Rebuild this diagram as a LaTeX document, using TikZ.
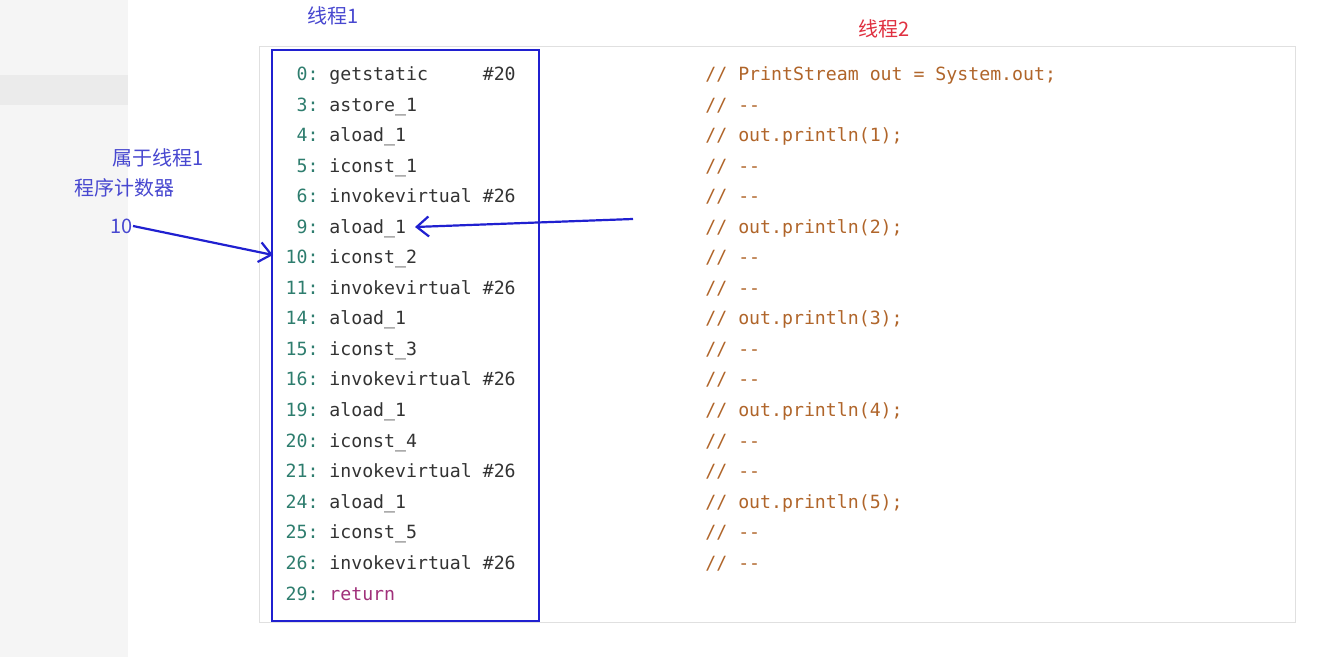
\documentclass[tikz,border=0pt]{standalone}
\usepackage{fontspec}
\setmonofont{DejaVu Sans Mono}
\newfontfamily\cjk{Noto Sans CJK SC}
\usetikzlibrary{arrows.meta}
\definecolor{numc}{HTML}{2E7D6E}
\definecolor{txtc}{HTML}{333333}
\definecolor{cmtc}{HTML}{B0652A}
\definecolor{retc}{HTML}{A0307A}
\definecolor{pen}{HTML}{2020D0}
\definecolor{lbl}{HTML}{4848D0}
\definecolor{redl}{HTML}{E03040}
\tikzset{
  num/.style={anchor=base east,inner sep=0pt,font=\ttfamily\fontsize{9.1}{10}\selectfont,text=numc},
  ins/.style={anchor=base west,inner sep=0pt,font=\ttfamily\fontsize{9.1}{10}\selectfont,text=txtc},
  cmt/.style={anchor=base west,inner sep=0pt,font=\ttfamily\fontsize{9.1}{10}\selectfont,text=cmtc},
  cjklbl/.style={inner sep=0pt,font=\cjk\fontsize{10}{12}\selectfont,text=lbl},
  penarrow/.style={draw=pen,line width=1.1pt,-{Straight Barb[length=6pt,width=10pt,line width=1.1pt]}}
}
\begin{document}
\begin{tikzpicture}[x=0.5pt,y=-0.5pt]
\useasboundingbox (0,0) rectangle (1326,657);
\fill[white] (0,0) rectangle (1326,657);
\fill[black!4] (0,0) rectangle (128,657);
\fill[black!8] (0,75) rectangle (128,105);
\draw[black!12,line width=0.5pt] (259,47) rectangle (1295,622);
\draw[pen,line width=1.1pt] (272,50) rectangle (539,621);
\foreach \i/\n/\t/\c in {0/0/{getstatic\ \ \ \ \ \#20}/{// PrintStream out = System.out;},
  1/3/astore\_1/{// --},2/4/aload\_1/{// out.println(1);},3/5/iconst\_1/{// --},
  4/6/{invokevirtual \#26}/{// --},5/9/aload\_1/{// out.println(2);},6/10/iconst\_2/{// --},
  7/11/{invokevirtual \#26}/{// --},8/14/aload\_1/{// out.println(3);},9/15/iconst\_3/{// --},
  10/16/{invokevirtual \#26}/{// --},11/19/aload\_1/{// out.println(4);},12/20/iconst\_4/{// --},
  13/21/{invokevirtual \#26}/{// --},14/24/aload\_1/{// out.println(5);},15/25/iconst\_5/{// --},
  16/26/{invokevirtual \#26}/{// --}}{
  \node[num] (n\i) at (319,81+30.5*\i) {\n:};
  \node[ins] (c\i) at (329,81+30.5*\i) {\t};
  \node[cmt] (m\i) at (705,81+30.5*\i) {\c};
}
\node[num] (n17) at (319,600) {29:};
\node[ins,text=retc] (c17) at (329,600) {return};
\node[cjklbl] (t1) at (333,16) {线程1};
\node[cjklbl,text=redl] (t2) at (884,29) {线程2};
\node[cjklbl] (belong) at (158,158) {属于线程1};
\node[cjklbl] (pc) at (124,188) {程序计数器};
\node[cjklbl,anchor=east] (ten) at (133,226) {10};
\coordinate (a1) at (273,255);
\coordinate (s2) at (633,219);
\coordinate (a2) at (415,227);
\draw[penarrow] (ten.east) -- (a1);
\draw[penarrow] (s2) -- (a2);
\end{tikzpicture}
\end{document}
